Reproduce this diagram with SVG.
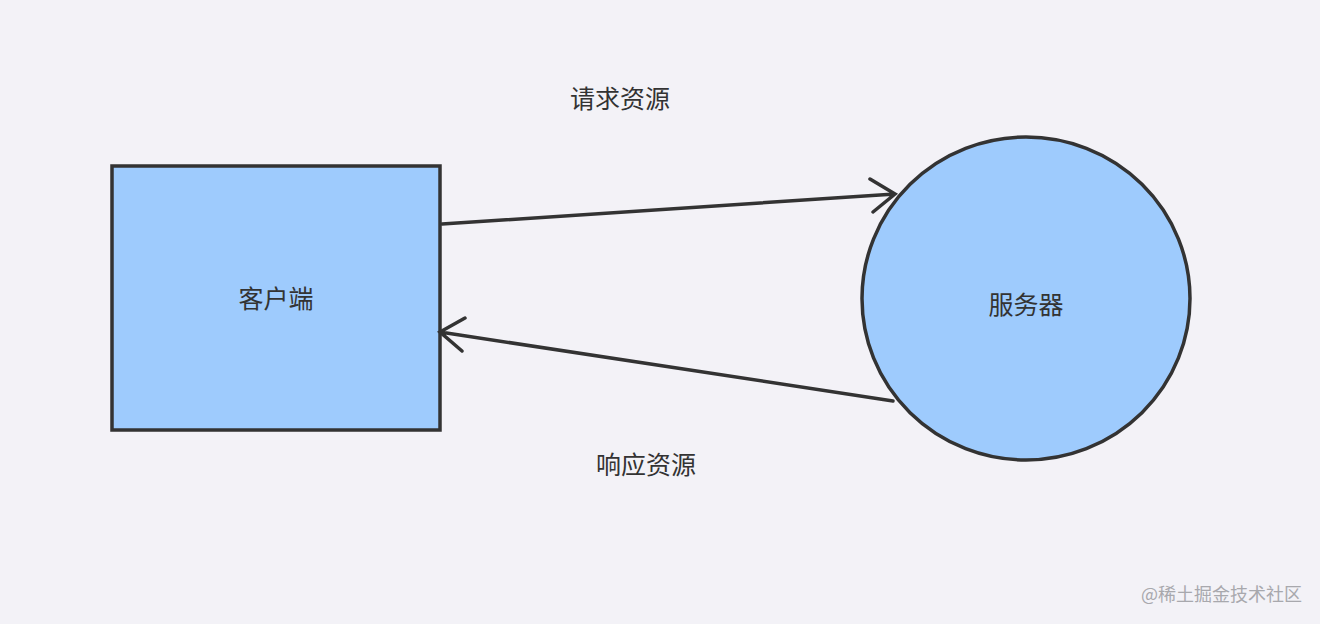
<svg xmlns="http://www.w3.org/2000/svg" width="1320" height="624" viewBox="0 0 1320 624">
<style>
.node{fill:#9ecbfd;stroke:#333;stroke-width:3.5}
.lbl{font-family:"Noto Sans CJK SC","Noto Sans",sans-serif;font-size:25px;fill:#333;text-anchor:middle}
.edge{stroke:#333;stroke-width:3.5;fill:none;stroke-linecap:round}
.wm{font-family:"Noto Sans CJK SC","Noto Sans",sans-serif;font-size:18px;fill:#a8a8ad;text-anchor:end}
</style>
<rect width="1320" height="624" fill="#f3f2f7"/>
<g id="client">
<rect class="node" x="112" y="166" width="328" height="264"/>
<text class="lbl" x="276" y="308">客户端</text>
</g>
<g id="server">
<ellipse class="node" cx="1026" cy="298.5" rx="164" ry="161.5"/>
<text class="lbl" x="1026" y="314">服务器</text>
</g>
<g id="connectors">
<path class="edge" d="M442 224 L895 194 M870 179 L895 194 L873 212"/>
<path class="edge" d="M893 401 L440 332 M465 318 L440 332 L462 351"/>
</g>
<g id="labels">
<text class="lbl" x="620" y="108">请求资源</text>
<text class="lbl" x="646" y="474">响应资源</text>
</g>
<text class="wm" x="1302" y="601">@稀土掘金技术社区</text>
</svg>
